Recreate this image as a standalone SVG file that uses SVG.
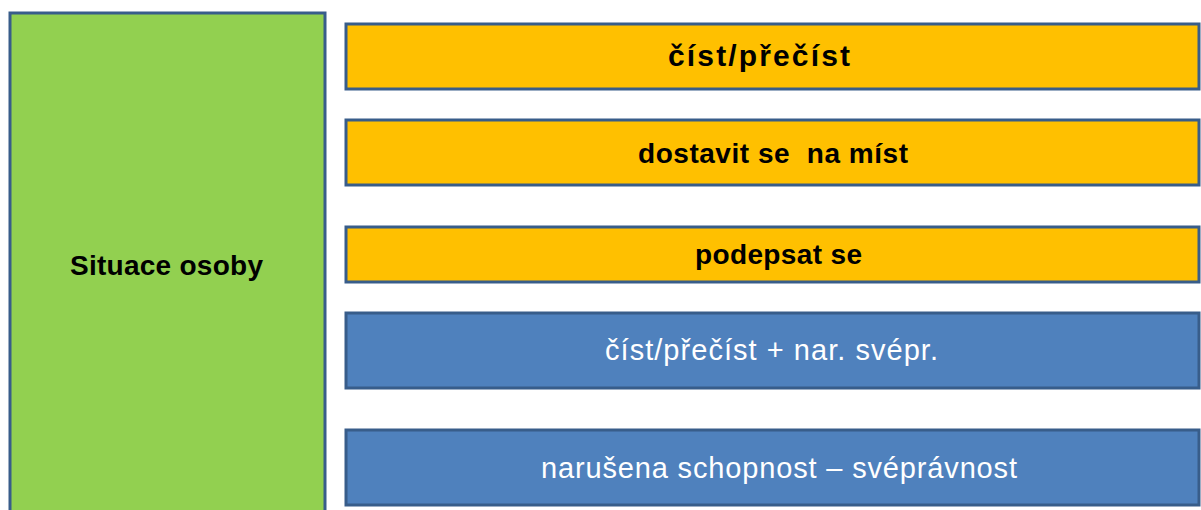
<svg xmlns="http://www.w3.org/2000/svg" width="1201" height="510" viewBox="0 0 1201 510">
  <style>
    .box { stroke: #385D8A; stroke-width: 3; }
    .green { fill: #92D050; }
    .orange { fill: #FFC000; }
    .blue { fill: #4F81BD; }
    .tb { font-family: "Liberation Sans", Arial, sans-serif; font-size: 28px; font-weight: bold; fill: #000; white-space: pre; }
    .tw { font-family: "Liberation Sans", Arial, sans-serif; font-size: 29px; fill: #fff; white-space: pre; }
  </style>
  <rect width="1201" height="510" fill="#ffffff"/>
  <g id="connectors"></g>
  <g id="situace">
    <rect class="box green" x="10" y="13" width="315" height="510"/>
    <text class="tb" x="70" y="275" textLength="193" lengthAdjust="spacing">Situace osoby</text>
  </g>
  <g id="cist">
    <rect class="box orange" x="346" y="24" width="853" height="65"/>
    <text class="tb" x="668" y="66" textLength="182" lengthAdjust="spacing" style="font-size:30px">číst/přečíst</text>
  </g>
  <g id="dostavit">
    <rect class="box orange" x="346" y="120" width="853" height="65"/>
    <text class="tb" x="638" y="163" textLength="270" lengthAdjust="spacing" xml:space="preserve">dostavit se  na míst</text>
  </g>
  <g id="podepsat">
    <rect class="box orange" x="346" y="227" width="853" height="55"/>
    <text class="tb" x="695" y="264" textLength="167" lengthAdjust="spacing">podepsat se</text>
  </g>
  <g id="cist-svepr">
    <rect class="box blue" x="346" y="313" width="853" height="75"/>
    <text class="tw" x="605" y="360" textLength="333" lengthAdjust="spacing">číst/přečíst + nar. svépr.</text>
  </g>
  <g id="narusena">
    <rect class="box blue" x="346" y="430" width="853" height="75"/>
    <text class="tw" x="541" y="478" textLength="476" lengthAdjust="spacing">narušena schopnost – svéprávnost</text>
  </g>
</svg>
